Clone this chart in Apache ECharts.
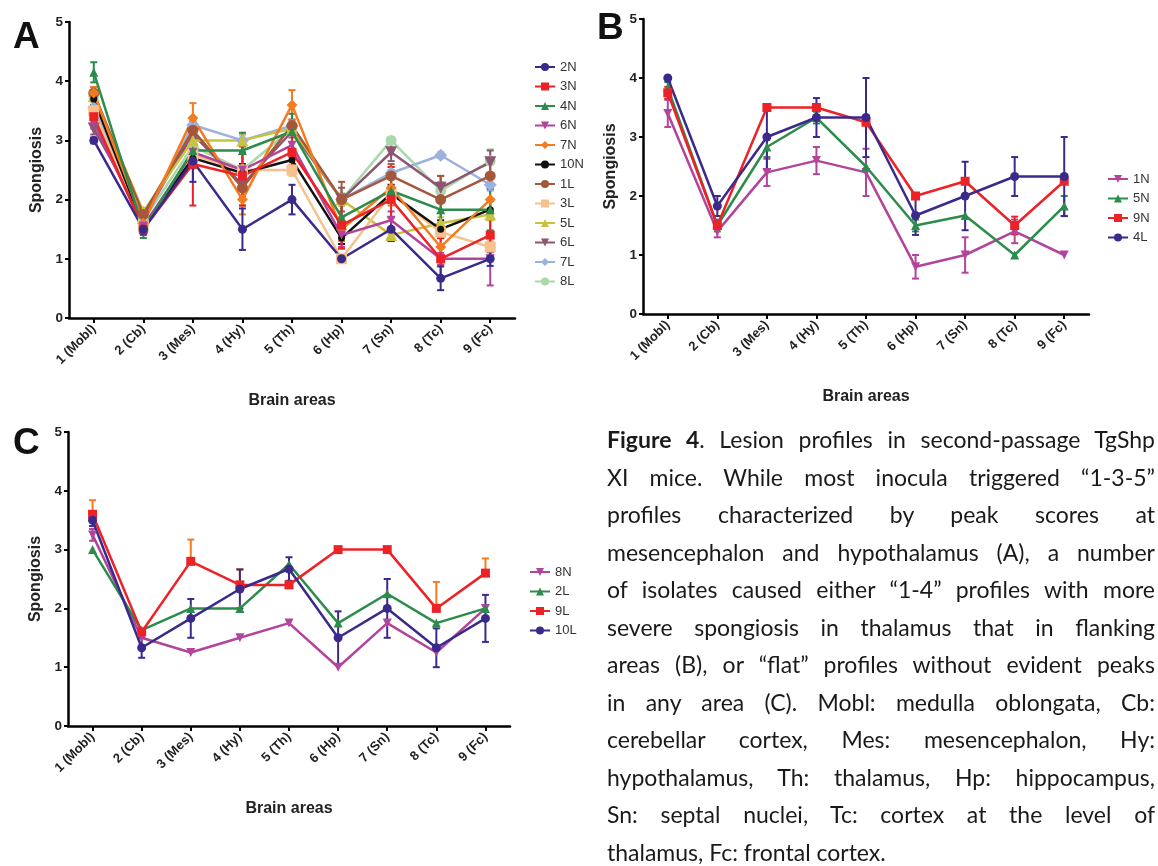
<!DOCTYPE html>
<html><head><meta charset="utf-8">
<script src="https://cdn.jsdelivr.net/npm/echarts@6/dist/echarts.min.js"></script>
<style>
html,body{margin:0;padding:0;background:#fff;}
#chart{position:absolute;left:0;top:0;width:1158px;height:866px;}
#caption{position:absolute;left:607px;top:421px;width:548px;font-family:Lato,"Noto Sans",sans-serif;font-size:23px;line-height:37.5px;color:#1a1a1a;}
#caption div{white-space:nowrap;text-align:justify;text-align-last:justify;}
#caption div.last{text-align-last:left;}
</style></head><body>
<div id="chart"></div>
<div id="caption">
<div><b>Figure 4</b>. Lesion profiles in second-passage TgShp</div>
<div>XI mice. While most inocula triggered “1-3-5”</div>
<div>profiles characterized by peak scores at</div>
<div>mesencephalon and hypothalamus (A), a number</div>
<div>of isolates caused either “1-4” profiles with more</div>
<div>severe spongiosis in thalamus that in flanking</div>
<div>areas (B), or “flat” profiles without evident peaks</div>
<div>in any area (C). Mobl: medulla oblongata, Cb:</div>
<div>cerebellar cortex, Mes: mesencephalon, Hy:</div>
<div>hypothalamus, Th: thalamus, Hp: hippocampus,</div>
<div>Sn: septal nuclei, Tc: cortex at the level of</div>
<div class="last">thalamus, Fc: frontal cortex.</div>
</div>
<script>
// ---------- DATA ----------
const categories = ['1 (Mobl)','2 (Cb)','3 (Mes)','4 (Hy)','5 (Th)','6 (Hp)','7 (Sn)','8 (Tc)','9 (Fc)'];
const yTickValues = [0,1,2,3,4,5];

// Panel A
const a2N  = [3.0, 1.5, 2.65, 1.5, 2.0, 1.0, 1.5, 0.67, 1.0];
const a2Nerr = [0.05, 0.08, 0.35, 0.35, 0.25, 0.05, 0.2, 0.2, 0.12];
const a3N  = [3.4, 1.5, 2.6, 2.4, 2.8, 1.57, 2.0, 1.0, 1.4];
const a3Nerr = [0.15, 0.1, 0.7, 0.5, 0.3, 0.4, 0.55, 0.35, 0.4];
const a4N  = [4.15, 1.5, 2.83, 2.83, 3.15, 1.7, 2.15, 1.83, 1.83];
const a4Nerr = [0.17, 0.15, 0.3, 0.3, 0.3, 0.35, 0.2, 0.45, 0.35];
const a6N  = [3.3, 1.55, 2.8, 2.5, 2.92, 1.4, 1.65, 1.0, 1.0];
const a6Nerr = [0.1, 0.1, 0.2, 0.3, 0.2, 0.2, 0.15, 0.1, 0.45];
const a7N  = [3.8, 1.6, 3.38, 2.0, 3.6, 1.5, 2.2, 1.2, 2.0];
const a7Nerr = [0.1, 0.1, 0.25, 0.25, 0.25, 0.2, 0.3, 0.3, 0.25];
const a10N = [3.7, 1.55, 2.7, 2.45, 2.67, 1.35, 2.1, 1.5, 1.83];
const a10Nerr = [0.1, 0.05, 0.15, 0.15, 0.1, 0.1, 0.15, 0.15, 0.15];
const a1L  = [3.8, 1.75, 3.17, 2.2, 3.25, 2.0, 2.4, 2.0, 2.4];
const a1Lerr = [0.1, 0.1, 0.15, 0.3, 0.1, 0.3, 0.2, 0.4, 0.2];
const a3L  = [3.5, 1.55, 2.75, 2.5, 2.5, 1.0, 2.1, 1.45, 1.2];
const a3Lerr = [0.1, 0.05, 0.1, 0.1, 0.1, 0.05, 0.1, 0.1, 0.1];
const a5L  = [3.75, 1.8, 3.0, 3.0, 3.2, 2.0, 1.4, 1.6, 1.75];
const a5Lerr = [0.1, 0.05, 0.1, 0.1, 0.1, 0.1, 0.1, 0.1, 0.1];
const a6L  = [3.2, 1.7, 3.1, 2.25, 3.15, 2.0, 2.8, 2.2, 2.63];
const a6Lerr = [0.1, 0.05, 0.1, 0.2, 0.1, 0.2, 0.15, 0.2, 0.2];
const a7L  = [3.55, 1.6, 3.26, 3.0, 3.25, 2.0, 2.45, 2.75, 2.25];
const a7Lerr = [0.1, 0.05, 0.1, 0.1, 0.1, 0.1, 0.1, 0.05, 0.1];
const a8L  = [3.75, 1.65, 2.9, 2.5, 3.2, 2.0, 3.0, 2.15, 2.65];
const a8Lerr = [0.1, 0.05, 0.1, 0.1, 0.1, 0.1, 0.05, 0.15, 0.2];

// Panel B
const b1N = [3.4, 1.4, 2.4, 2.6, 2.4, 0.8, 1.0, 1.4, 1.0];
const b1Nerr = [0.23, 0.1, 0.23, 0.23, 0.4, 0.2, 0.3, 0.2, 0];
const b5N = [3.83, 1.5, 2.83, 3.33, 2.5, 1.5, 1.67, 1.0, 1.83];
const b5Nerr = [0.1, 0.1, 0.17, 0.1, 0, 0.1, 0, 0, 0.17];
const b9N = [3.75, 1.5, 3.5, 3.5, 3.25, 2.0, 2.25, 1.5, 2.25];
const b9Nerr = [0.1, 0, 0, 0, 0, 0, 0, 0.15, 0];
const b4L = [4.0, 1.83, 3.0, 3.33, 3.33, 1.67, 2.0, 2.33, 2.33];
const b4Lerr = [0, 0.17, 0.55, 0.33, 0.67, 0.33, 0.58, 0.33, 0.67];

// Panel C
const c8N = [3.25, 1.5, 1.25, 1.5, 1.75, 1.0, 1.75, 1.25, 2.0];
const c8Nerr = [0.1, 0, 0, 0, 0, 0, 0, 0, 0];
const c2L = [3.0, 1.63, 2.0, 2.0, 2.75, 1.75, 2.25, 1.75, 2.0];
const c2Lerr = [0, 0, 0, 0, 0, 0, 0, 0, 0];
const c9L = [3.6, 1.6, 2.8, 2.4, 2.4, 3.0, 3.0, 2.0, 2.6];
const c9LerrUp = [0.24, 0.05, 0.37, 0.27, 0.25, 0, 0, 0.45, 0.25];
const c10L = [3.5, 1.33, 1.83, 2.33, 2.67, 1.5, 2.0, 1.33, 1.83];
const c10Lerr = [0.1, 0.17, 0.33, 0.33, 0.2, 0.45, 0.5, 0.33, 0.4];

// ---------- STYLE ----------
const C = {
  purple:'#3b2a8c', red:'#ec2227', green:'#2b8c4c', magenta:'#b2449c', orange:'#f47b20',
  black:'#111111', brown:'#a5573c', ltorange:'#f5c28e', olive:'#c9c23f', mauve:'#8d5571',
  ltblue:'#9cb1de', ltgreen:'#a9d9ab'
};
const F = '"Liberation Sans", Arial, sans-serif';

const series = [];
function addLine(name, vals, errs, color, symbol, idx, opts) {
  opts = opts || {};
  const errColor = opts.errColor || color;
  series.push({
    type:'custom', name: name + ' sd', xAxisIndex: idx, yAxisIndex: idx, z: 2,
    silent: true, clip: false,
    data: vals.map((v, i) => [i, v, errs[i]]),
    encode: {x: 0, y: 1},
    renderItem: function (params, api) {
      const i = api.value(0), v = api.value(1), e = api.value(2);
      if (!e) return null;
      const top = api.coord([i, v + e]);
      const bot = api.coord([i, opts.upperOnly ? v : v - e]);
      const hw = 3.5;
      const ch = [
        {type:'line', shape:{x1:top[0], y1:top[1], x2:bot[0], y2:bot[1]}, style:{stroke:errColor, lineWidth:2}},
        {type:'line', shape:{x1:top[0]-hw, y1:top[1], x2:top[0]+hw, y2:top[1]}, style:{stroke:errColor, lineWidth:2}}
      ];
      if (!opts.upperOnly) ch.push({type:'line', shape:{x1:bot[0]-hw, y1:bot[1], x2:bot[0]+hw, y2:bot[1]}, style:{stroke:errColor, lineWidth:2}});
      return {type:'group', children: ch};
    }
  });
  series.push({
    type:'line', name: name, xAxisIndex: idx, yAxisIndex: idx, z: 3,
    data: vals, symbol: symbol, symbolSize: opts.size || 9, symbolRotate: opts.rotate || 0,
    showAllSymbol: true,
    lineStyle: {color: color, width: 2.5, opacity: opts.opacity || 1},
    itemStyle: {color: color, opacity: opts.opacity || 1},
    emphasis: {disabled: true}
  });
}

// Panel A (light series first so dark ones are drawn on top)
addLine('8L', a8L, a8Lerr, C.ltgreen, 'circle', 0, {size: 11});
addLine('7L', a7L, a7Lerr, C.ltblue, 'diamond', 0, {size: 13});
addLine('6L', a6L, a6Lerr, C.mauve, 'triangle', 0, {size: 12, rotate: 180});
addLine('5L', a5L, a5Lerr, C.olive, 'triangle', 0, {size: 12});
addLine('3L', a3L, a3Lerr, C.ltorange, 'rect', 0, {size: 11});
addLine('1L', a1L, a1Lerr, C.brown, 'circle', 0, {size: 11});
addLine('10N', a10N, a10Nerr, C.black, 'circle', 0, {size: 7});
addLine('7N', a7N, a7Nerr, C.orange, 'diamond', 0, {size: 11});
addLine('6N', a6N, a6Nerr, C.magenta, 'triangle', 0, {size: 9, rotate: 180});
addLine('4N', a4N, a4Nerr, C.green, 'triangle', 0, {size: 9});
addLine('3N', a3N, a3Nerr, C.red, 'rect', 0, {size: 9});
addLine('2N', a2N, a2Nerr, C.purple, 'circle', 0, {size: 9});

// Panel B
addLine('1N', b1N, b1Nerr, C.magenta, 'triangle', 1, {size: 9, rotate: 180});
addLine('5N', b5N, b5Nerr, C.green, 'triangle', 1, {size: 9});
addLine('9N', b9N, b9Nerr, C.red, 'rect', 1, {size: 9});
addLine('4L', b4L, b4Lerr, C.purple, 'circle', 1, {size: 9});

// Panel C
addLine('8N', c8N, c8Nerr, C.magenta, 'triangle', 2, {size: 9, rotate: 180});
addLine('2L', c2L, c2Lerr, C.green, 'triangle', 2, {size: 9});
addLine('9L', c9L, c9LerrUp, C.red, 'rect', 2, {size: 9, upperOnly: true, errColor: C.orange});
addLine('10L', c10L, c10Lerr, C.purple, 'circle', 2, {size: 9});

const grids = [
  {left: 69, top: 22, width: 446, height: 296},
  {left: 643, top: 19, width: 446, height: 295},
  {left: 68, top: 432, width: 442, height: 294}
];
const xAxes = grids.map((g, i) => ({
  type: 'category', gridIndex: i, data: categories, boundaryGap: true,
  name: 'Brain areas', nameLocation: 'middle', nameGap: 75,
  nameTextStyle: {fontFamily: F, fontWeight: 'bold', fontSize: 16, color: '#222'},
  axisLine: {lineStyle: {color: '#000', width: 2.5}},
  axisTick: {show: true, alignWithLabel: true, length: 5, lineStyle: {color: '#000', width: 2}},
  axisLabel: {rotate: 45, margin: 9, fontFamily: F, fontWeight: 'bold', fontSize: 13, color: '#222', interval: 0},
  splitLine: {show: false}
}));
const yAxes = grids.map((g, i) => ({
  type: 'value', gridIndex: i, min: 0, max: 5, interval: 1,
  name: 'Spongiosis', nameLocation: 'middle', nameGap: 24, nameRotate: 90,
  nameTextStyle: {fontFamily: F, fontWeight: 'bold', fontSize: 16, color: '#222'},
  axisLine: {show: true, lineStyle: {color: '#000', width: 2.5}},
  axisTick: {show: true, length: 4, lineStyle: {color: '#000', width: 2}},
  axisLabel: {margin: 6, fontFamily: F, fontWeight: 'bold', fontSize: 13.5, color: '#222',
    formatter: v => yTickValues.indexOf(v) >= 0 ? String(v) : ''},
  splitLine: {show: false}
}));

function legend(names, left, top) {
  return {
    orient: 'vertical', left: left, top: top, itemGap: 5.5, itemWidth: 20, itemHeight: 10,
    data: names, selectedMode: false,
    textStyle: {fontFamily: F, fontSize: 13, color: '#333', lineHeight: 14}
  };
}

const option = {
  animation: false,
  backgroundColor: '#fff',
  grid: grids,
  xAxis: xAxes,
  yAxis: yAxes,
  legend: [
    legend(['2N','3N','4N','6N','7N','10N','1L','3L','5L','6L','7L','8L'], 529, 55),
    legend(['1N','5N','9N','4L'], 1102, 167),
    legend(['8N','2L','9L','10L'], 524, 560)
  ],
  graphic: [
    {type: 'text', left: 13, top: 19, style: {text: 'A', font: 'bold 37px "Liberation Sans", Arial', fill: '#111'}},
    {type: 'text', left: 597, top: 10, style: {text: 'B', font: 'bold 37px "Liberation Sans", Arial', fill: '#111'}},
    {type: 'text', left: 13, top: 425, style: {text: 'C', font: 'bold 37px "Liberation Sans", Arial', fill: '#111'}}
  ],
  series: series
};
const chart = echarts.init(document.getElementById('chart'), null, {renderer: 'canvas'});
chart.setOption(option);
</script>
</body></html>
